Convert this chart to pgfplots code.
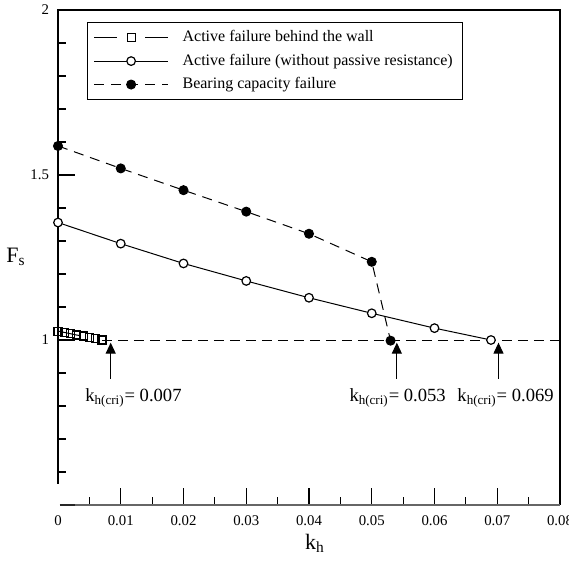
\documentclass[border=0pt]{standalone}
\usepackage{pgfplots}
\pgfplotsset{compat=1.18}
\usepackage{fontspec}
\setmainfont{Liberation Serif}
\usetikzlibrary{arrows.meta}

\begin{document}
\begin{tikzpicture}
\begin{axis}[
    name=ax,
    scale only axis,
    width=251pt, height=247.5pt,
    xmin=0, xmax=0.08,
    ymin=0.5, ymax=2,
    clip=false,
    axis line style={draw=none},
    scaled x ticks=false,
    xtick={0.01,0.02,0.03,0.04,0.05,0.06,0.07,0.08},
    xticklabels={0.01,0.02,0.03,0.04,0.05,0.06,0.07,0.08},
    extra x ticks={0},
    extra x tick labels={0},
    extra x tick style={major tick length=0pt},
    minor xtick={0.005,0.015,0.025,0.035,0.045,0.055,0.065,0.075},
    ytick={1,1.5,2},
    yticklabels={1,1.5,2},
    minor ytick={0.6,0.7,0.8,0.9,1.1,1.2,1.3,1.4,1.6,1.7,1.8,1.9},
    tick align=inside,
    xtick pos=bottom, ytick pos=left,
    major tick length=8.5pt, minor tick length=4pt,
    tick style={black, line width=0.6pt},
    tick label style={font=\fontsize{7.4}{9}\selectfont},
    xticklabel style={yshift=-2pt},
    yticklabel style={xshift=-1pt},
    /pgf/number format/assume math mode=true,
    legend cell align=left,
    legend style={at={(axis description cs:0.0578,0.976)}, anchor=north west,
        draw=black, line width=0.6pt, font=\fontsize{8}{9.5}\selectfont,
        inner xsep=3pt, inner ysep=2pt, row sep=0.6pt, column sep=5pt},
    legend image code/.code={\draw[mark repeat=2,mark phase=2]
        plot coordinates {(0pt,0pt) (18.5pt,0pt) (37pt,0pt)};},
]

% F_s = 1 reference line
\addplot[black, line width=0.5pt, dash pattern=on 5pt off 3pt, forget plot]
    coordinates {(0.007,1) (0.08,1)};

% active failure behind the wall
\addplot[black, line width=0.5pt, dash pattern=on 11.5pt off 14pt,
    mark=square, mark size=2pt, mark options={solid, line width=0.6pt}]
    coordinates {
    (0.000, 1.027)
    (0.001, 1.023)
    (0.002, 1.019)
    (0.003, 1.015)
    (0.004, 1.012)
    (0.005, 1.008)
    (0.006, 1.004)
    (0.007, 1.000)
    };
\addlegendentry{Active failure behind the wall}

% active failure, no passive resistance
\addplot[black, line width=0.5pt,
    mark=*, mark size=2.15pt, mark options={fill=white, line width=0.6pt}]
    coordinates {
    (0.00, 1.356)
    (0.01, 1.292)
    (0.02, 1.232)
    (0.03, 1.179)
    (0.04, 1.128)
    (0.05, 1.081)
    (0.06, 1.036)
    (0.069, 1.000)
    };
\addlegendentry{Active failure (without passive resistance)}

% bearing capacity failure
\addplot[black, line width=0.5pt, dash pattern=on 5pt off 3.5pt,
    mark=*, mark size=2.25pt, mark options={solid, fill=black}]
    coordinates {
    (0.00, 1.588)
    (0.01, 1.520)
    (0.02, 1.454)
    (0.03, 1.389)
    (0.04, 1.322)
    (0.05, 1.237)
    (0.053, 0.998)
    };
\addlegendentry{Bearing capacity failure}

% frame
\draw[line width=0.8pt] (axis cs:0,0.565) -- (axis cs:0,2) -- (axis cs:0.08,2) -- (axis cs:0.08,0.5);
\draw[line width=0.8pt, black!60] (axis cs:0.0003,0.5) -- (axis cs:0.08,0.5);
\draw[line width=1.2pt, black!85] (axis cs:0.0003,0.5) -- (axis cs:0.0027,0.5);

% critical k_h arrows
\draw[line width=0.6pt, -{Triangle[length=5.5pt,width=5pt]}] (axis cs:0.0084,0.882) -- (axis cs:0.0084,0.992);
\draw[line width=0.6pt, -{Triangle[length=5.5pt,width=5pt]}] (axis cs:0.054,0.882) -- (axis cs:0.054,0.992);
\draw[line width=0.6pt, -{Triangle[length=5.5pt,width=5pt]}] (axis cs:0.0702,0.882) -- (axis cs:0.0702,0.992);

\node[anchor=base west, inner sep=0pt, font=\fontsize{9.3}{11}\selectfont] at (axis cs:0.0043,0.813) {k\textsubscript{h(cri)}= 0.007};
\node[anchor=base west, inner sep=0pt, font=\fontsize{9.3}{11}\selectfont] at (axis cs:0.0464,0.813) {k\textsubscript{h(cri)}= 0.053};
\node[anchor=base west, inner sep=0pt, font=\fontsize{9.3}{11}\selectfont] at (axis cs:0.0636,0.813) {k\textsubscript{h(cri)}= 0.069};
\end{axis}

\node[font=\fontsize{11}{13}\selectfont] at ([xshift=128.5pt,yshift=-19pt]ax.south west) {k\textsubscript{h}};
\node[font=\fontsize{11}{13}\selectfont] at ([xshift=-21pt,yshift=124pt]ax.south west) {F\textsubscript{s}};

\pgfresetboundingbox
\path ([xshift=-29pt,yshift=-29pt]ax.south west) rectangle ([xshift=4.5pt,yshift=5pt]ax.north east);
\end{tikzpicture}
\end{document}
